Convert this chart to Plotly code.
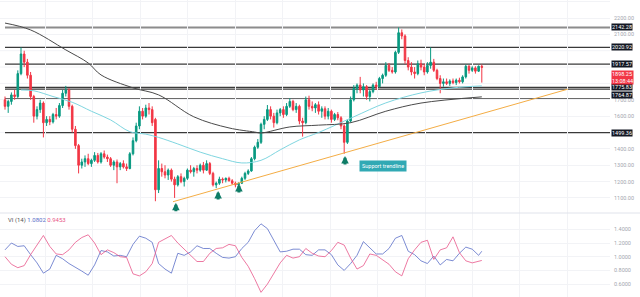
import plotly.graph_objects as go

# ---------------- data ----------------
opens = [1700,1660,1690,1730,1720,1860,1980,1930,1850,1720,
         1600,1640,1680,1560,1580,1565,1610,1600,1665,1740,
         1760,1660,1520,1420,1300,1320,1340,1310,1330,1360,
         1320,1370,1350,1340,1300,1320,1290,1310,1290,1280,
         1370,1450,1540,1630,1600,1650,1640,1580,1150,1280,
         1260,1240,1270,1215,1180,1230,1200,1220,1270,1260,
         1280,1270,1300,1270,1310,1250,1180,1190,1215,1210,
         1220,1205,1190,1180,1190,1220,1250,1265,1340,1410,
         1440,1550,1580,1640,1600,1560,1620,1640,1610,1660,
         1690,1640,1660,1570,1560,1700,1660,1650,1670,1630,
         1645,1600,1630,1580,1610,1590,1540,1440,1570,1700,
         1770,1790,1760,1780,1720,1750,1790,1780,1830,1850,
         1910,1880,1870,1990,2110,2090,1940,1900,1870,1860,
         1920,1900,1870,1910,1930,1880,1830,1800,1810,1800,
         1815,1805,1820,1810,1840,1905,1880,1895,1875,1905]
highs = [1720,1700,1745,1760,1880,2020,2000,1950,1870,1730,
         1660,1700,1690,1600,1600,1620,1650,1680,1760,1785,
         1770,1670,1540,1430,1340,1360,1370,1340,1380,1375,
         1380,1390,1365,1350,1330,1335,1320,1330,1310,1380,
         1470,1560,1660,1650,1670,1680,1660,1590,1330,1310,
         1300,1280,1280,1230,1240,1250,1230,1280,1300,1290,
         1300,1310,1320,1330,1320,1260,1200,1230,1225,1225,
         1230,1215,1200,1195,1230,1260,1275,1350,1420,1460,
         1560,1600,1668,1660,1620,1640,1650,1660,1680,1710,
         1700,1680,1670,1590,1720,1725,1690,1680,1690,1660,
         1660,1650,1640,1620,1625,1600,1550,1580,1720,1790,
         1800,1840,1800,1790,1760,1800,1810,1840,1860,1930,
         1925,1900,2000,2142,2130,2100,1960,1930,1900,1940,
         1945,1920,1930,2020,1950,1890,1850,1830,1830,1825,
         1830,1830,1835,1850,1915,1912,1905,1905,1910,1915]
lows = [1640,1620,1670,1700,1710,1850,1900,1830,1700,1560,
        1580,1620,1470,1540,1545,1555,1580,1590,1650,1720,
        1640,1500,1400,1250,1280,1290,1300,1290,1320,1310,
        1310,1340,1320,1290,1270,1190,1270,1280,1265,1275,
        1360,1440,1520,1580,1590,1610,1540,1080,1130,1230,
        1220,1210,1200,1100,1170,1190,1170,1210,1250,1230,
        1250,1260,1250,1265,1240,1170,1160,1180,1190,1195,
        1200,1180,1165,1150,1185,1210,1240,1260,1330,1400,
        1430,1520,1570,1580,1530,1550,1600,1590,1600,1650,
        1630,1620,1550,1475,1550,1640,1630,1620,1610,1590,
        1580,1580,1560,1570,1575,1520,1370,1430,1560,1690,
        1740,1740,1720,1700,1690,1740,1760,1775,1800,1840,
        1870,1860,1860,1980,2070,1920,1880,1850,1830,1850,
        1880,1850,1860,1890,1870,1820,1740,1780,1790,1785,
        1795,1790,1800,1800,1830,1860,1870,1860,1870,1805]
closes = [1660,1690,1730,1720,1860,1980,1930,1850,1720,1600,
          1640,1680,1560,1580,1565,1610,1600,1665,1740,1760,
          1660,1520,1420,1300,1320,1340,1310,1330,1360,1320,
          1370,1350,1340,1300,1320,1290,1310,1290,1280,1370,
          1450,1540,1630,1600,1650,1640,1560,1150,1280,1260,
          1240,1270,1215,1180,1230,1200,1220,1270,1260,1280,
          1270,1300,1270,1310,1250,1180,1190,1215,1210,1220,
          1205,1190,1180,1190,1220,1250,1265,1340,1410,1440,
          1550,1580,1640,1600,1560,1620,1640,1610,1660,1690,
          1640,1660,1570,1560,1700,1660,1650,1670,1630,1645,
          1600,1630,1580,1610,1590,1540,1440,1570,1700,1770,
          1790,1760,1780,1720,1750,1790,1780,1830,1850,1910,
          1880,1870,1990,2110,2090,1940,1900,1870,1860,1920,
          1900,1870,1910,1930,1880,1830,1800,1810,1800,1815,
          1805,1820,1810,1840,1905,1880,1895,1875,1905,1898.25]

# moving averages (sampled at candle indices)
ma_fast_idx = [5, 9, 15, 21, 27, 33, 39, 44, 48, 54, 61, 68, 74, 80, 86, 92, 98, 109, 119, 130, 140, 149]
ma_fast_val = [1760, 1755, 1720, 1685, 1630, 1577, 1505, 1490, 1470, 1430, 1380, 1340, 1314, 1330,
               1394, 1455, 1500, 1596, 1681, 1742, 1773, 1785]
ma_slow_idx = [0, 8, 19, 26, 30, 40, 48, 59, 70, 78, 80, 89, 98, 108, 119, 130, 149]
ma_slow_val = [2169, 2127, 2005, 1925, 1852, 1773, 1730, 1596, 1528, 1503, 1497, 1534, 1545, 1560,
               1630, 1680, 1718]

# horizontal levels
levels = [2142.28, 2020.92, 1917.57, 1775.83, 1764.87, 1705.0, 1499.36]
level_labels = ["2142.28", "2020.92", "1917.57", "1775.83", "1764.87", "", "1499.36"]
last_price = 1898.25
countdown = "13:08:44"

# support trendline
trend_idx = [52.5, 175.9]
trend_val = [1077, 1765]

# up arrows at touches (tip positions)
arrow_idx = [53.4, 66.6, 73.1, 106.25]
arrow_val = [1070, 1143, 1186, 1357]

# Vortex indicator (every 2nd candle, last one at the final candle)
vi_idx = list(range(0, 150, 2)) + [149]
vi_plus = [1.10,1.20,1.15,1.16,1.03,0.91,0.76,0.82,1.02,0.97,
           0.90,0.85,0.79,0.73,0.88,1.09,1.07,1.01,1.02,1.00,
           1.18,1.30,1.27,1.21,0.90,0.82,0.76,1.05,1.02,1.07,
           1.16,1.12,1.12,1.05,0.99,0.98,1.00,1.12,1.21,1.38,
           1.48,1.41,1.25,1.07,1.08,1.11,1.11,1.03,1.02,1.10,
           1.10,1.03,0.88,0.80,0.90,1.02,1.22,1.13,1.04,1.04,
           1.12,1.27,1.31,1.08,1.03,0.94,0.90,1.01,0.88,0.96,
           0.94,1.05,1.14,1.11,1.02,1.0802]
vi_minus = [1.00,0.89,0.84,0.87,1.03,1.18,1.31,1.15,1.04,1.03,
            1.10,1.21,1.28,1.32,1.20,1.03,1.10,1.06,1.00,0.99,
            0.75,0.72,0.78,0.90,1.21,1.26,1.31,1.20,1.11,1.01,
            0.93,0.93,1.05,1.12,1.13,1.18,1.16,0.99,0.86,0.68,
            0.48,0.60,0.75,0.91,1.02,0.98,1.00,1.12,1.05,1.01,
            1.00,1.09,1.21,1.17,0.98,0.82,0.87,1.04,1.02,0.95,
            0.89,0.78,0.72,0.97,1.10,1.21,1.24,0.96,1.10,1.13,
            1.29,1.06,0.94,0.91,0.93,0.9453]

# visible price tick labels (others are hidden behind the level labels)
price_ticks = [1100, 1200, 1300, 1400, 1600, 1700, 2100, 2200, 2300]
price_grid = [1500, 1800, 1900, 2000]
vi_ticks = [0.6, 0.8, 1.0, 1.2, 1.4]

# ---------------- styling ----------------
W, H = 640, 297
XR = [-1.5625, 189.06]
GREEN = "#089981"
RED = "#f23645"
ARROW = "#0e7c66"
FONT = "Roboto"
split = 1 - 213 / 297

fig = go.Figure()

fig.add_trace(go.Candlestick(
    x=list(range(len(closes))), open=opens, high=highs, low=lows, close=closes,
    increasing=dict(line=dict(color=GREEN, width=1), fillcolor=GREEN),
    decreasing=dict(line=dict(color=RED, width=1), fillcolor=RED),
    whiskerwidth=0, xaxis="x", yaxis="y", hoverinfo="skip", showlegend=False))

fig.add_trace(go.Scatter(x=ma_fast_idx, y=ma_fast_val, mode="lines",
                         line=dict(color="#7fd6e0", width=1, shape="spline"),
                         xaxis="x", yaxis="y", showlegend=False, hoverinfo="skip"))
fig.add_trace(go.Scatter(x=ma_slow_idx, y=ma_slow_val, mode="lines",
                         line=dict(color="#4a4a4a", width=1, shape="spline"),
                         xaxis="x", yaxis="y", showlegend=False, hoverinfo="skip"))
fig.add_trace(go.Scatter(x=trend_idx, y=trend_val, mode="lines",
                         line=dict(color="#f4ad45", width=1),
                         xaxis="x", yaxis="y", showlegend=False, hoverinfo="skip"))

fig.add_trace(go.Scatter(x=vi_idx, y=vi_plus, mode="lines",
                         line=dict(color="#5a6fc8", width=0.8),
                         xaxis="x2", yaxis="y2", showlegend=False, hoverinfo="skip"))
fig.add_trace(go.Scatter(x=vi_idx, y=vi_minus, mode="lines",
                         line=dict(color="#e8578a", width=0.8),
                         xaxis="x2", yaxis="y2", showlegend=False, hoverinfo="skip"))

shapes = []
for g in price_grid:
    shapes.append(dict(type="line", xref="paper", yref="y", x0=0, x1=610 / W, y0=g, y1=g,
                       line=dict(color="#f2f3f6", width=1), layer="below"))
for i, lv in enumerate(levels):
    top = (i == 0)
    shapes.append(dict(type="line", xref="x", yref="y", x0=0, x1=XR[1], y0=lv, y1=lv,
                       line=dict(color="#8c8c8c" if top else "#3a3a3a", width=2 if top else 1.2),
                       layer="below"))
# pane separator
shapes.append(dict(type="line", xref="paper", yref="paper", x0=0, x1=1, y0=split, y1=split,
                   line=dict(color="#e0e3eb", width=1)))

annotations = []
yshifts = {3: 0.5, 4: -5.5}
for i, (lv, lab) in enumerate(zip(levels, level_labels)):
    if not lab:
        continue
    annotations.append(dict(xref="paper", yref="y", x=611 / W, y=lv, xanchor="left", yanchor="middle",
                            text=lab, showarrow=False, bgcolor="#131722",
                            font=dict(family=FONT, size=5.5, color="white"),
                            borderpad=0, yshift=yshifts.get(i, 0)))
annotations.append(dict(xref="paper", yref="y", x=611 / W, y=last_price, xanchor="left", yanchor="middle",
                        text=f"{last_price:.2f}<br>{countdown}", showarrow=False, bgcolor=RED,
                        font=dict(family=FONT, size=5.5, color="white"), borderpad=0, yshift=-10,
                        align="left"))
# green up-arrows
for ax_i, av in zip(arrow_idx, arrow_val):
    annotations.append(dict(xref="x", yref="y", x=ax_i, y=av, ax=0, ay=10, text="",
                            showarrow=True, arrowhead=2, arrowsize=0.5, arrowwidth=3,
                            arrowcolor=ARROW))
annotations.append(dict(xref="x", yref="y", x=117.6, y=1420, ax=2, ay=14,
                        text="Support trendline", showarrow=True, arrowhead=0, arrowwidth=3,
                        arrowcolor="#31a9b4", bgcolor="#31a9b4", borderpad=2,
                        font=dict(family=FONT, size=5.5, color="white"),
                        xanchor="center", yanchor="top"))
annotations.append(dict(xref="paper", yref="paper", x=6 / W, y=1 - 220 / H, xanchor="left", yanchor="middle",
                        text="VI (14) <span style='color:#5a6fc8'>1.0802</span> "
                             "<span style='color:#e8578a'>0.9453</span>",
                        showarrow=False, font=dict(family=FONT, size=6, color="#555")))

common_x = dict(range=XR, showticklabels=False, showgrid=True, gridcolor="#f2f3f6", gridwidth=1,
                tick0=131.25, dtick=14.84, zeroline=False, showline=False, fixedrange=True)

fig.update_layout(
    width=W, height=H, margin=dict(l=0, r=0, t=0, b=0),
    paper_bgcolor="white", plot_bgcolor="white",
    font=dict(family=FONT, size=6, color="#a3a6af"),
    showlegend=False, hovermode=False,
    xaxis=dict(domain=[0, 610 / W], anchor="y", rangeslider=dict(visible=False), **common_x),
    xaxis2=dict(domain=[0, 610 / W], anchor="y2", **common_x),
    yaxis=dict(domain=[split, 1], range=[1008, 2310], side="right", tickvals=price_ticks,
               tickformat=".2f", showgrid=True, gridcolor="#f2f3f6", zeroline=False,
               ticks="", ticklabelstandoff=3, tickfont=dict(size=5.5, color="#a3a6af"),
               automargin=False, fixedrange=True),
    yaxis2=dict(domain=[0, split], range=[0.412, 1.638], side="right", tickvals=vi_ticks,
                tickformat=".4f", showgrid=True, gridcolor="#f2f3f6", zeroline=False,
                ticks="", ticklabelstandoff=3, tickfont=dict(size=5.5, color="#a3a6af"),
                automargin=False, fixedrange=True),
    shapes=shapes, annotations=annotations,
)

fig.write_html("out.html", config={"displayModeBar": False})
